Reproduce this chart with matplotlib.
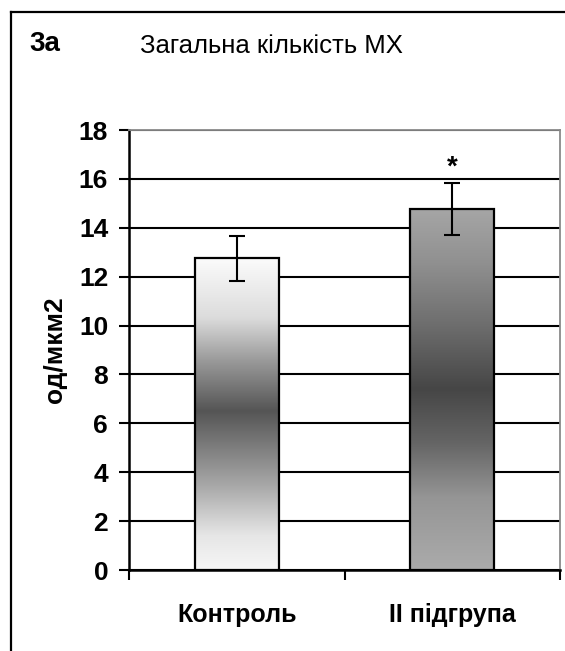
import numpy as np
import matplotlib
matplotlib.use("Agg")
import matplotlib.pyplot as plt
from matplotlib.colors import LinearSegmentedColormap
from matplotlib.lines import Line2D

plt.rcParams['font.family'] = ['Liberation Sans Narrow', 'Liberation Sans', 'DejaVu Sans']

# data
groups = ["Контроль", "II підгрупа"]
means = [12.75, 14.77]
errors = [0.93, 1.05]
significant = [False, True]
y_ticks = [0, 2, 4, 6, 8, 10, 12, 14, 16, 18]

# vertical gradients (fraction of bar height from bottom -> grey)
grad_ctrl = [(0.0, "#f6f6f6"), (0.11, "#e6e6e6"), (0.27, "#a8a8a8"),
             (0.51, "#555555"), (0.67, "#999999"), (0.81, "#dcdcdc"),
             (1.0, "#fbfbfb")]
grad_grp2 = [(0.0, "#ababab"), (0.2, "#959595"), (0.35, "#656565"),
             (0.5, "#464646"), (0.68, "#6e6e6e"), (0.85, "#909090"),
             (1.0, "#a6a6a6")]

fig = plt.figure(figsize=(5.65, 6.51), dpi=100)
ax = fig.add_axes([129 / 565, 1 - 570 / 651, 431 / 565, 440 / 651])

x = np.arange(len(groups))
width = 0.39
bars = ax.bar(x, means, width=width, facecolor="none", edgecolor="black",
              linewidth=1.6, zorder=3)

for bar, stops in zip(bars, [grad_ctrl, grad_grp2]):
    cmap = LinearSegmentedColormap.from_list("g", stops)
    x0, h = bar.get_x(), bar.get_height()
    grad = np.linspace(0, 1, 256).reshape(-1, 1)
    im = ax.imshow(grad, cmap=cmap, origin="lower", aspect="auto",
                   extent=[x0, x0 + bar.get_width(), 0, h], zorder=2)
    im.set_clip_path(bar)

ax.errorbar(x, means, yerr=errors, fmt="none", ecolor="black",
            elinewidth=1.5, capsize=5.5, capthick=1.5, zorder=4)

for xi, m, e, sig in zip(x, means, errors, significant):
    if sig:
        ax.text(xi, m + e + 0.1, "*", ha="center", va="bottom",
                fontsize=20, fontweight="bold")

ax.set_xlim(-0.5, len(groups) - 0.5)
ax.set_ylim(0, 18)
ax.set_yticks(y_ticks)
ax.set_yticklabels([str(t) for t in y_ticks], fontsize=19, fontweight="bold")
ax.yaxis.grid(True, color="black", linewidth=1.5, zorder=1)
ax.set_axisbelow(True)

ax.set_xticks(x)
ax.set_xticklabels(groups, fontsize=18, fontweight="bold")
ax.tick_params(axis="x", length=0, pad=24)
ax.set_xticks([-0.5, 0.5, 1.5], minor=True)
ax.tick_params(axis="x", which="minor", length=7, width=1.5, direction="out")
ax.tick_params(axis="y", length=7, width=1.5, direction="out", pad=8)

ax.spines["left"].set_linewidth(1.8)
ax.spines["bottom"].set_linewidth(1.8)
for s in ["top", "right"]:
    ax.spines[s].set_color("#8a8a8a")
    ax.spines[s].set_linewidth(1.3)

fig.text(55 / 565, 1 - 350 / 651, "од/мкм2", rotation=90, ha="center",
         va="center", fontsize=19, fontweight="bold")
fig.text(271 / 565, 1 - 46 / 651, "Загальна кількість МХ", ha="center",
         va="center", fontsize=18.5)
fig.text(29 / 565, 1 - 44 / 651, "3а", ha="left", va="center",
         fontsize=20, fontweight="bold")

# outer frame (left and top edges visible)
fig.add_artist(Line2D([11 / 565, 11 / 565], [0, 1 - 12 / 651],
                      transform=fig.transFigure, color="black", linewidth=1.6))
fig.add_artist(Line2D([11 / 565, 1], [1 - 12 / 651, 1 - 12 / 651],
                      transform=fig.transFigure, color="black", linewidth=1.6))

fig.savefig("out.png", dpi=100)
